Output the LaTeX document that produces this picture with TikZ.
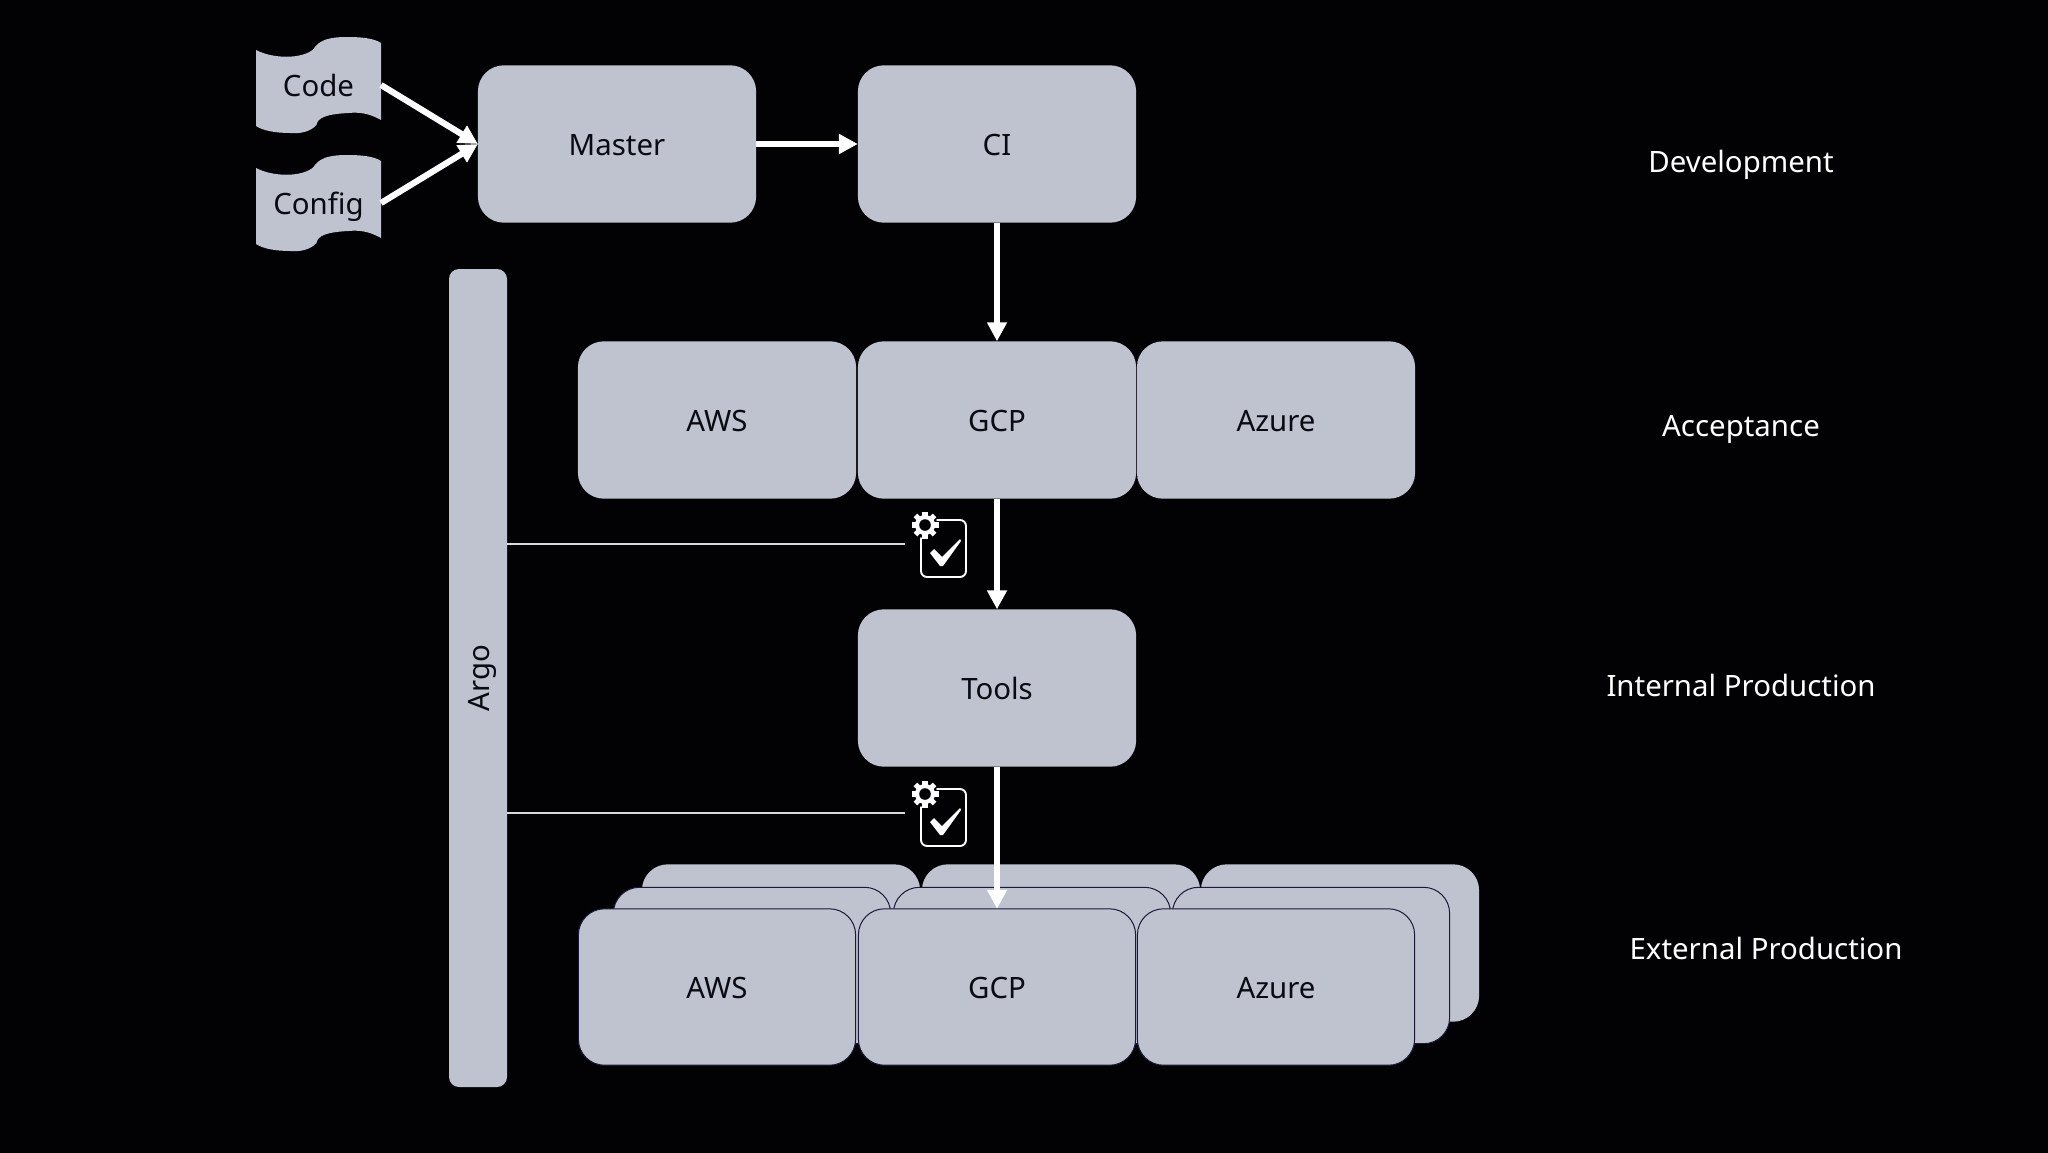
\documentclass[tikz,border=0pt]{standalone}
\usepackage{fontspec}
\setmainfont{Noto Sans}
\usetikzlibrary{arrows.meta}
\definecolor{bgc}{HTML}{020204}
\definecolor{cardc}{HTML}{BFC3D0}
\definecolor{edgec}{HTML}{1B1838}
\definecolor{inkc}{HTML}{0A0A12}
\tikzset{
  x=0.5pt,y=-0.5pt,
  base/.style={font=\fontsize{14.7}{17}\selectfont,text=inkc,inner sep=0pt,outer sep=0pt,text height=11.6pt,text depth=0pt},
  card/.style={base,fill=cardc,draw=edgec,line width=0.5pt,rounded corners=13pt,minimum width=138.6pt,minimum height=78.2pt},
  soft/.style={card,draw=none,minimum width=139.1pt,minimum height=78.7pt},
  stage/.style={font=\fontsize{14.7}{17}\selectfont,text=white,inner sep=0pt,text height=11.6pt,text depth=0pt},
  flow/.style={draw=white,line width=3.1pt,-{Triangle[length=9.5pt,width=9.5pt]}},
  thinline/.style={draw=white!85!black,line width=0.55pt},
  docnode/.style={base,minimum width=62.5pt,minimum height=48pt},
  docsheet/.pic={
    \fill[cardc] (-62.5,-35) .. controls (-45,-26) and (-18,-26) .. (-6,-35)
      .. controls (-2,-39) and (0,-48) .. (28,-48)
      .. controls (42,-48) and (55,-47) .. (62.5,-42) -- (62.5,35)
      .. controls (50,28) and (40,27) .. (30,28)
      .. controls (10,29) and (-1,32) .. (-2,40)
      .. controls (-8,47) and (-20,49) .. (-28,48)
      .. controls (-42,48) and (-55,46) .. (-62.5,41) -- cycle;
  },
  gearicon/.pic={
    \foreach \a in {0,45,...,315}
      \fill[white,rotate=\a] (-2.6,-13.5) rectangle (2.6,-6);
    \fill[white] (0,0) circle[radius=10];
    \fill[bgc] (0,0) circle[radius=5.8];
  },
  boardicon/.pic={
    \draw[white,line width=0.95pt,rounded corners=3pt,line cap=round] (12,-24) -- (41,-24) -- (41,33) -- (-4,33) -- (-4,-6);
    \fill[white] (5,9) -- (9,5) -- (17,13) -- (35,-5) -- (36,-3) -- (18,22) -- (15,22) -- cycle;
    \pic at (0,-19) {gearicon};
  },
}
\begin{document}
\begin{tikzpicture}
\useasboundingbox (0,0) rectangle (2048,1152);
\fill[bgc] (-8,-8) rectangle (2056,1160);

% stacked production cards, back layers
\foreach \cx in {781,1061,1340} \node[soft] at (\cx,943) {};
\foreach \cx in {752,1032,1311} \node[card] at (\cx,965.5) {};

% Argo bar
\node[soft,rounded corners=5pt,minimum width=29pt,minimum height=409pt] (argo) at (478,678) {};
\node[base,rotate=90] (argolab) at (argo.center) {Argo};

% documents
\pic at (318.5,85) {docsheet};
\pic at (318.5,203) {docsheet};
\node[docnode] (code) at (318.5,85) {Code};
\node[docnode] (config) at (318.5,203) {Config};

% main cards
\node[soft] (master) at (617,144) {Master};
\node[soft] (ci) at (997,144) {CI};
\node[soft] (aws) at (717,420) {AWS};
\node[soft] (gcp) at (997,420) {GCP};
\node[soft] (azure) at (1276,420) {Azure};
\node[soft] (tools) at (997,688) {Tools};
\node[card] (awsx) at (717,987) {AWS};
\node[card] (gcpx) at (997,987) {GCP};
\node[card] (azurex) at (1276,987) {Azure};

% connectors
\draw[flow] (code.east) -- (master.west);
\draw[flow] (config.east) -- (master.west);
\draw[flow] (master) -- (ci);
\draw[flow] (ci) -- (gcp);
\draw[flow] (gcp) -- (tools);
\draw[flow] (tools) -- (gcpx);

% gate checks
\coordinate (gateA) at (905,544);
\coordinate (gateB) at (905,813);
\draw[thinline] (argo.east |- gateA) -- (gateA);
\draw[thinline] (argo.east |- gateB) -- (gateB);
\pic at (925,544) {boardicon};
\pic at (925,813) {boardicon};

% stage labels
\node[stage] (dev) at (1741,161) {Development};
\node[stage] (acc) at (1741,425) {Acceptance};
\node[stage] (intp) at (1741,685) {Internal Production};
\node[stage] (extp) at (1766,948) {External Production};
\end{tikzpicture}
\end{document}
